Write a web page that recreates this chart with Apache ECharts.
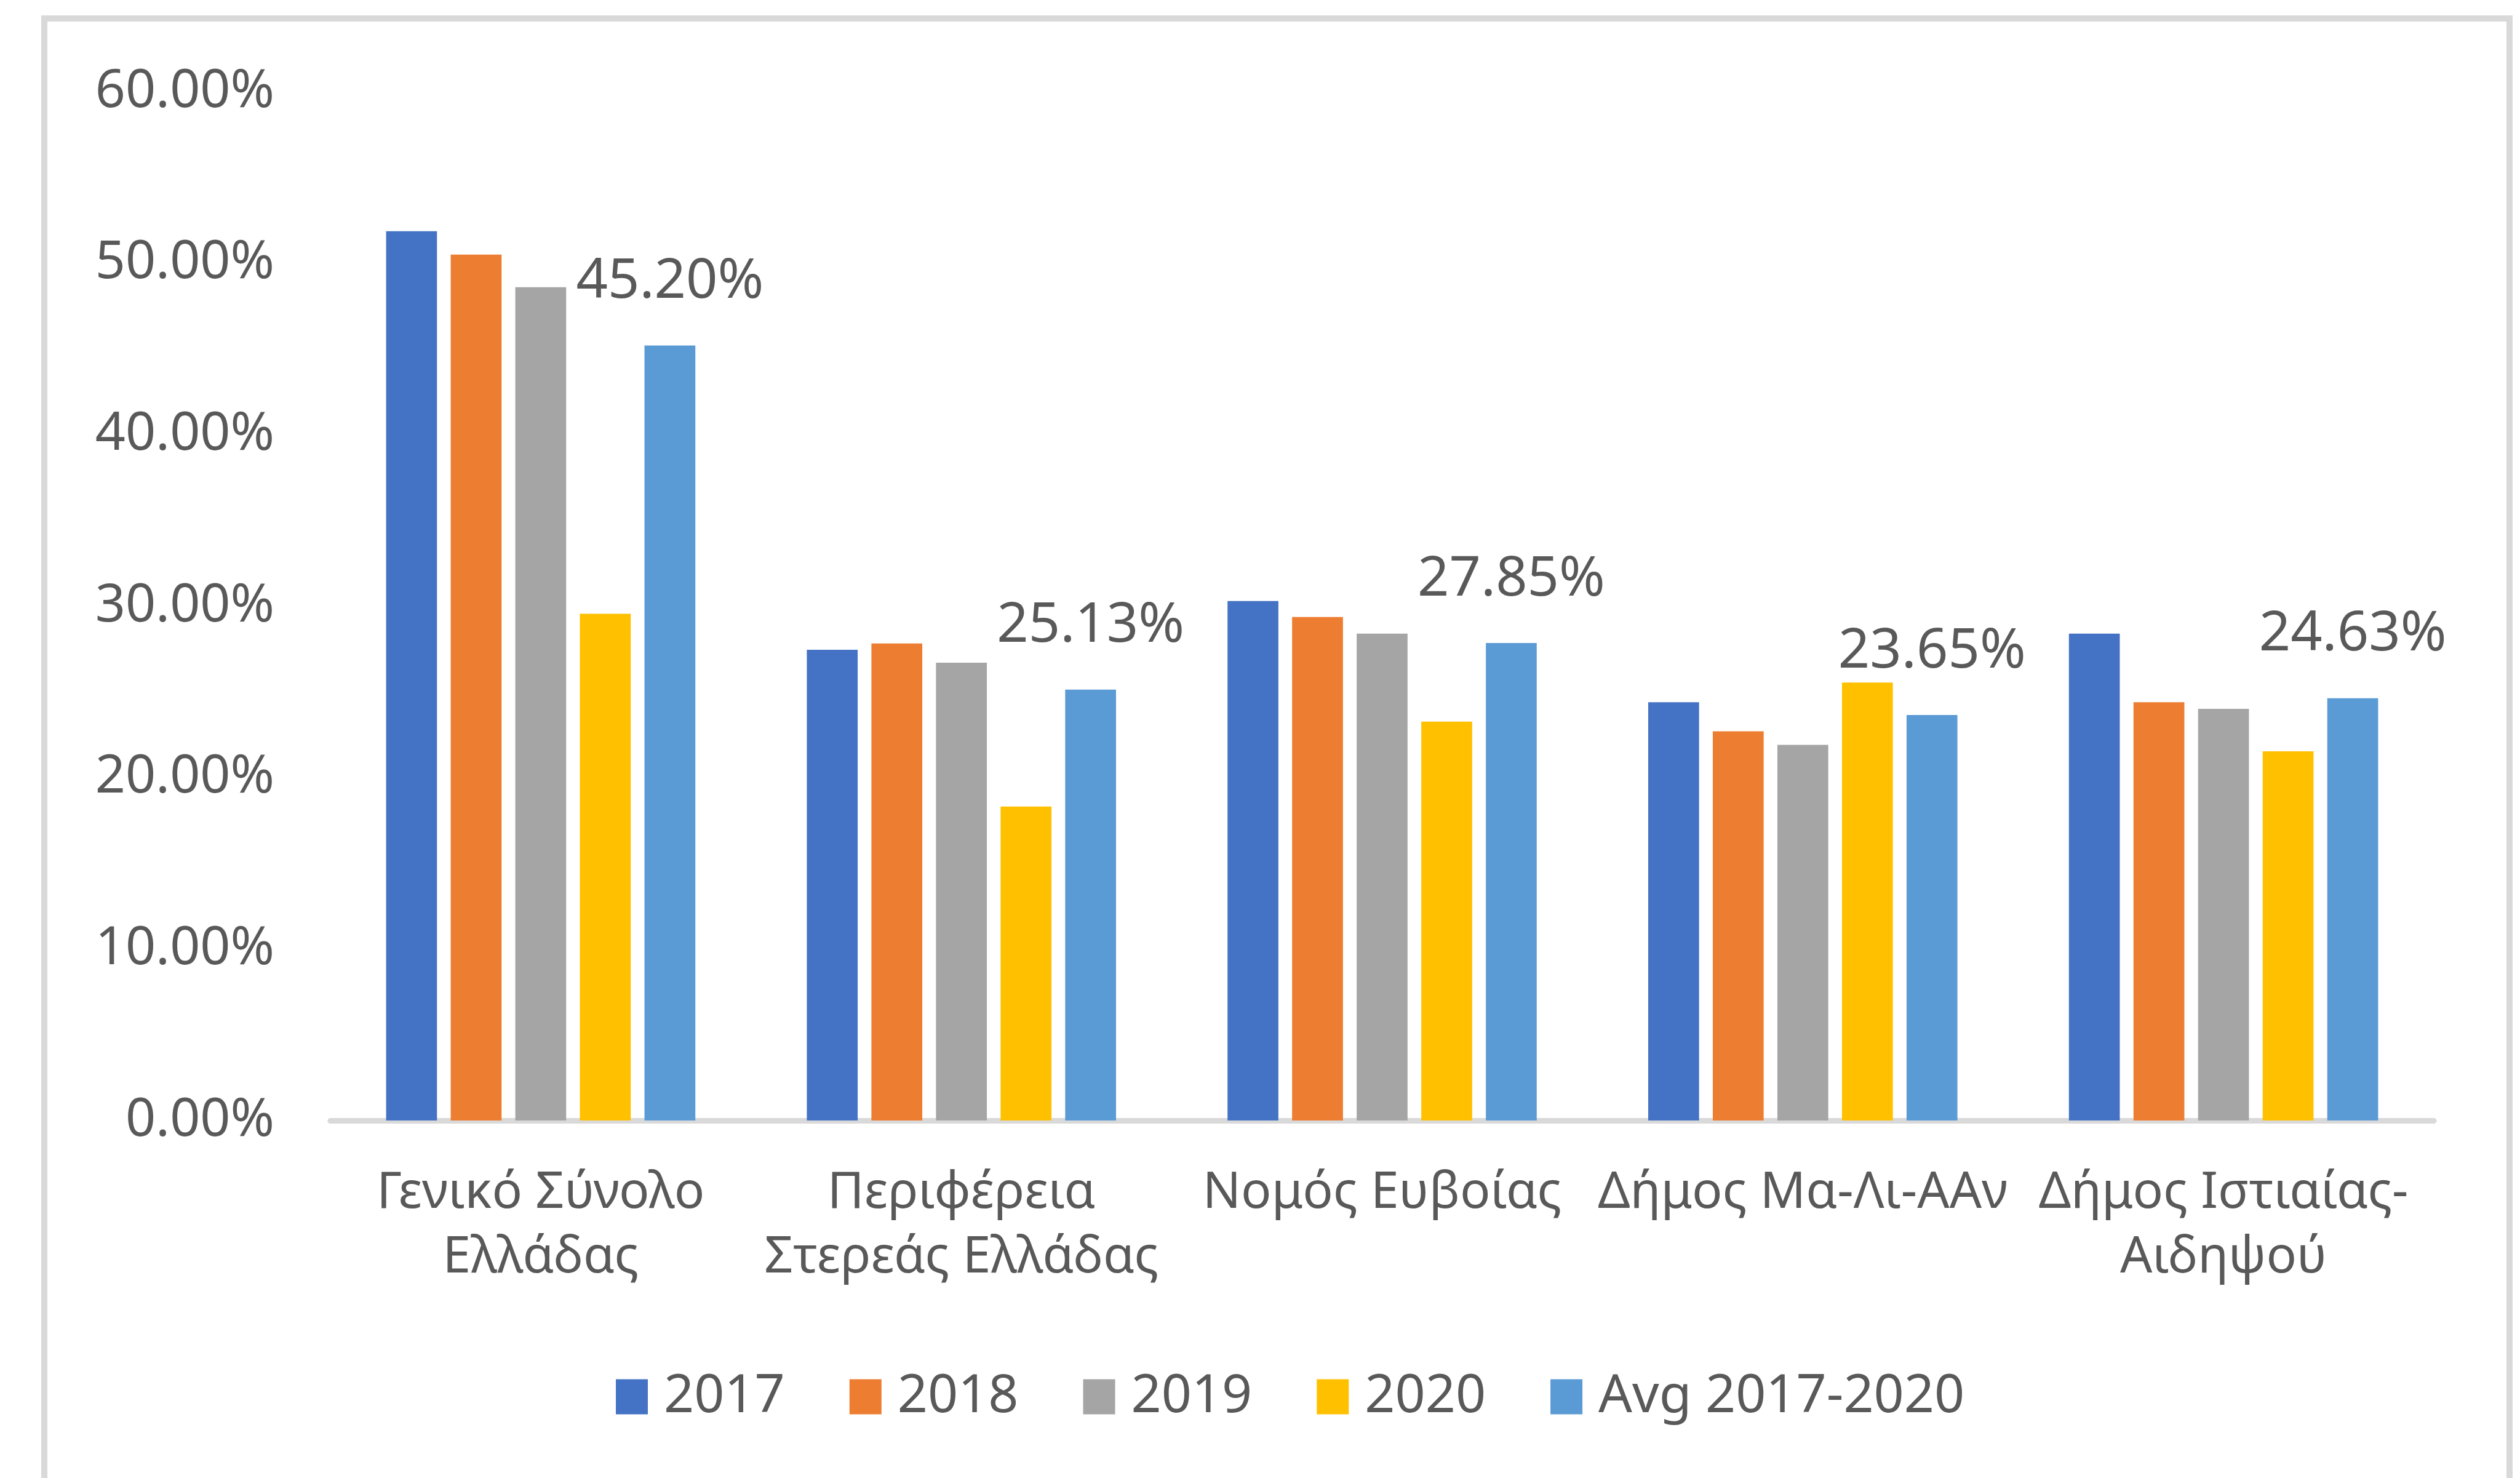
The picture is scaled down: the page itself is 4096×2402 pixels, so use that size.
<!DOCTYPE html>
<html>
<head>
<meta charset="utf-8">
<title>Ποσοστά 2017-2020</title>
<script src="https://cdn.jsdelivr.net/npm/echarts@6/dist/echarts.min.js"></script>
<style>
  html, body { margin: 0; padding: 0; background: #fff; }
  #chart { width: 4096px; height: 2402px; }
</style>
</head>
<body>
<div id="chart"></div>
<script>
const categories = [
  'Γενικό Σύνολο\nΕλλάδας',
  'Περιφέρεια\nΣτερεάς Ελλάδας',
  'Νομός Ευβοίας',
  'Δήμος Μα-Λι-ΑΑν',
  'Δήμος Ιστιαίας-\nΑιδηψού'
]
const seriesNames = ['2017', '2018', '2019', '2020', 'Avg 2017-2020']
const colors = ['#4472c4', '#ed7d31', '#a5a5a5', '#ffc000', '#5b9bd5']

// values in percent
const values2017 = [51.86, 27.45, 30.30, 24.39, 28.39]
const values2018 = [50.50, 27.82, 29.36, 22.70, 24.39]
const values2019 = [48.60, 26.70, 28.39, 21.91, 24.01]
const values2020 = [29.55, 18.31, 23.26, 25.54, 21.53]
const valuesAvg = [45.20, 25.13, 27.85, 23.65, 24.63]

const yTicks = { min: 0, max: 60, interval: 10 }

const font = '"Noto Sans", "DejaVu Sans", sans-serif'
const textColor = '#595959'
const lineColor = '#d9d9d9'

const allValues = [values2017, values2018, values2019, values2020, valuesAvg]

const series = allValues.map((vals, i) => {
  const s = {
    name: seriesNames[i],
    type: 'bar',
    data: vals,
    barGap: '27%',
    barCategoryGap: '26.5%',
    itemStyle: { color: colors[i] }
  }
  // only the average gets a value label
  if (i === allValues.length - 1) {
    s.label = {
      show: true,
      position: 'top',
      distance: 58,
      color: textColor,
      fontFamily: font,
      fontSize: 90,
      formatter: p => p.value.toFixed(2) + '%'
    }
  }
  return s
})

const chart = echarts.init(document.getElementById('chart'))
chart.setOption({
  animation: false,
  backgroundColor: '#fff',
  color: colors,
  graphic: [
    {
      type: 'rect',
      silent: true,
      shape: { x: 72, y: 30, width: 4007, height: 2600 },
      style: { fill: 'none', stroke: lineColor, lineWidth: 10 }
    }
  ],
  legend: {
    data: seriesNames,
    left: 996,
    top: 2222,
    icon: 'rect',
    itemWidth: 52,
    itemHeight: 57,
    itemGap: 105,
    textStyle: {
      color: textColor,
      fontFamily: font,
      fontSize: 86,
      padding: [0, 0, 0, 21]
    }
  },
  grid: {
    left: 537,
    right: 140,
    top: 149,
    bottom: 581
  },
  xAxis: {
    type: 'category',
    data: categories,
    axisLine: { lineStyle: { color: lineColor, width: 9 } },
    axisTick: { show: false },
    axisLabel: {
      interval: 0,
      margin: 66,
      color: textColor,
      fontFamily: font,
      fontSize: 82,
      lineHeight: 105
    }
  },
  yAxis: {
    type: 'value',
    min: yTicks.min,
    max: yTicks.max,
    interval: yTicks.interval,
    axisLine: { show: false },
    axisTick: { show: false },
    splitLine: { show: false },
    axisLabel: {
      margin: 91,
      color: textColor,
      fontFamily: font,
      fontSize: 86,
      formatter: v => v.toFixed(2) + '%'
    }
  },
  series: series
})
</script>
</body>
</html>
